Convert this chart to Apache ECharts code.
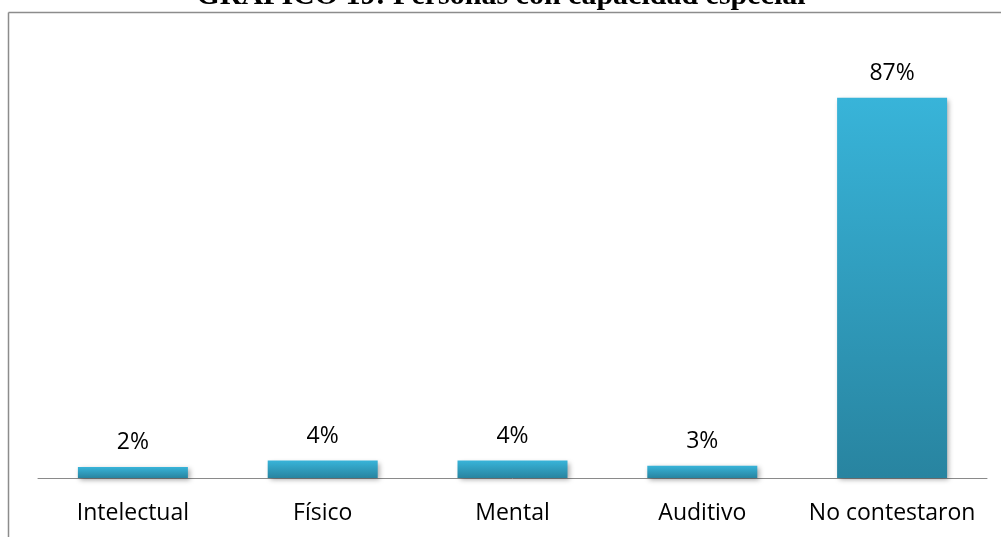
<!DOCTYPE html>
<html>
<head>
<meta charset="utf-8">
<script src="https://cdn.jsdelivr.net/npm/echarts@6/dist/echarts.min.js"></script>
<style>
html,body{margin:0;padding:0;background:#fff;}
#chart{width:1001px;height:537px;}
</style>
</head>
<body>
<div id="chart"></div>
<script>
const categories = ['Intelectual', 'Físico', 'Mental', 'Auditivo', 'No contestaron'];
const values = [2.5, 4, 4, 2.8, 87];
const valueLabels = ['2%', '4%', '4%', '3%', '87%'];
const titleText = 'GRÁFICO 19: Personas con capacidad especial';

const chart = echarts.init(document.getElementById('chart'), null, {renderer: 'canvas'});
const labelFont = '"Open Sans", sans-serif';
chart.setOption({
  animation: false,
  backgroundColor: '#ffffff',
  grid: {left: 38, right: 14, top: 41, bottom: 59},
  xAxis: {
    type: 'category',
    data: categories,
    axisLine: {show: true, lineStyle: {color: '#8a8a8a', width: 1}},
    axisTick: {show: false},
    axisLabel: {color: '#000', fontFamily: labelFont, fontSize: 23, margin: 24, interval: 0, hideOverlap: false}
  },
  yAxis: {
    type: 'value', min: 0, max: 100, show: false,
    splitLine: {show: false}
  },
  series: [{
    type: 'bar',
    data: values,
    barWidth: 110,
    itemStyle: {
      color: new echarts.graphic.LinearGradient(0, 0, 0, 1, [
        {offset: 0, color: '#38b4d9'},
        {offset: 1, color: '#2884a0'}
      ]),
      shadowColor: 'rgba(0,0,0,0.35)',
      shadowBlur: 5,
      shadowOffsetX: 2,
      shadowOffsetY: 2
    },
    label: {
      show: true, position: 'top', distance: 13,
      color: '#000', fontFamily: labelFont, fontSize: 23,
      formatter: p => valueLabels[p.dataIndex]
    }
  }],
  graphic: [
    {type: 'line', shape: {x1: 8.5, y1: 12.5, x2: 1001, y2: 12.5}, style: {stroke: '#8c8c8c', lineWidth: 1.5}},
    {type: 'line', shape: {x1: 8.5, y1: 12.5, x2: 8.5, y2: 537}, style: {stroke: '#8c8c8c', lineWidth: 1.5}},
    {type: 'text', x: 501, y: 11.5, style: {
      text: titleText, fill: '#000', align: 'center', verticalAlign: 'bottom',
      font: 'bold 30px "Liberation Serif", "Times New Roman", serif'
    }}
  ]
});
</script>
</body>
</html>
